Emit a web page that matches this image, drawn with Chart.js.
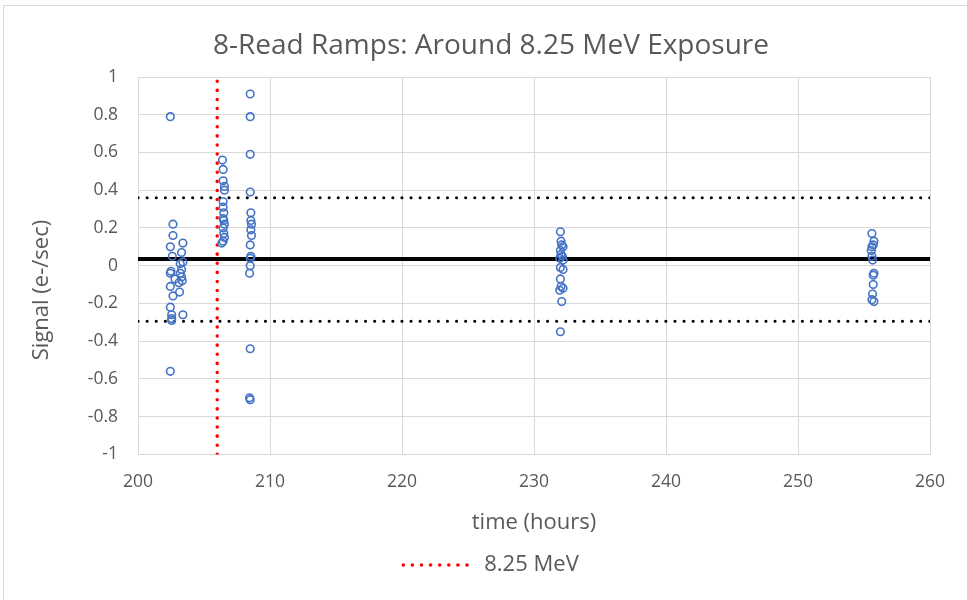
<!DOCTYPE html>
<html lang="en">
<head>
<meta charset="UTF-8" />
<title>8-Read Ramps: Around 8.25 MeV Exposure</title>
<style>
  body { margin: 0; padding: 0; background: #ffffff; }
  .wrap { position: relative; width: 967px; height: 600px; overflow: hidden; }
  .frame {
    position: absolute; left: 3px; top: 5px;
    width: 980px; height: 620px;
    border: 1px solid #d9d9d9;
  }
  canvas { position: absolute; left: 0; top: 0; }
</style>
</head>
<body>
<div class="wrap">
  <div class="frame"></div>
  <canvas id="chart" width="967" height="600"></canvas>
</div>

<script src="https://cdn.jsdelivr.net/npm/chart.js"></script>
<script>
  // axis ticks
  const xTicks = [200, 210, 220, 230, 240, 250, 260];
  const yTicks = [-1, -0.8, -0.6, -0.4, -0.2, 0, 0.2, 0.4, 0.6, 0.8, 1];

  // reference lines
  const exposureTime = 206;      // red dotted 8.25 MeV line
  const meanSignal = 0.035;
  const upperLimit = 0.36;
  const lowerLimit = -0.295;

  const timeA = [202.45, 202.65, 202.65, 202.45, 202.6, 202.5, 202.45, 202.45, 202.65, 202.45, 202.55, 202.55, 202.55, 202.45,
                 203.4, 203.3, 203.4, 203.2, 203.3, 203.2, 203.3, 203.35, 203.1, 203.15, 203.4, 202.8];
  const signalA = [0.79, 0.22, 0.16, 0.10, 0.05, -0.03, -0.04, -0.11, -0.16, -0.22, -0.26, -0.28, -0.29, -0.56,
                   0.12, 0.07, 0.02, 0.01, -0.02, -0.04, -0.06, -0.08, -0.09, -0.14, -0.26, -0.07];

  const timeB = [206.4, 206.45, 206.45, 206.55, 206.55, 206.45, 206.45, 206.5, 206.45, 206.5, 206.55, 206.45, 206.5, 206.55, 206.45, 206.35,
                 208.5, 208.5, 208.5, 208.5, 208.55, 208.55, 208.6, 208.55, 208.6, 208.5, 208.55, 208.5, 208.5, 208.45, 208.5, 208.45, 208.5];
  const signalB = [0.56, 0.51, 0.45, 0.42, 0.40, 0.34, 0.31, 0.28, 0.25, 0.24, 0.22, 0.20, 0.17, 0.15, 0.13, 0.12,
                   0.91, 0.79, 0.59, 0.39, 0.28, 0.24, 0.22, 0.19, 0.16, 0.11, 0.05, 0.04, 0.00, -0.04, -0.44, -0.70, -0.71];

  const timeC = [232.0, 232.05, 232.1, 232.2, 232.0, 232.05, 232.15, 231.95, 232.2, 232.0, 232.2, 232.0, 232.05, 232.2, 231.95, 232.1, 232.0];
  const signalC = [0.18, 0.13, 0.11, 0.10, 0.08, 0.06, 0.05, 0.04, 0.03, -0.01, -0.02, -0.07, -0.11, -0.12, -0.13, -0.19, -0.35];

  const timeD = [255.6, 255.75, 255.7, 255.6, 255.55, 255.6, 255.65, 255.75, 255.7, 255.7, 255.65, 255.6, 255.75];
  const signalD = [0.17, 0.13, 0.11, 0.10, 0.08, 0.05, 0.03, -0.04, -0.05, -0.10, -0.15, -0.18, -0.19];

  const toPoints = (xs, ys) => xs.map((x, i) => ({ x: x, y: ys[i] }));
  const allPoints = [].concat(
    toPoints(timeA, signalA), toPoints(timeB, signalB),
    toPoints(timeC, signalC), toPoints(timeD, signalD)
  );
  const xMin = xTicks[0], xMax = xTicks[xTicks.length - 1];
  const yMin = yTicks[0], yMax = yTicks[yTicks.length - 1];

  const FONT = "'Open Sans', 'Noto Sans', sans-serif";
  const TEXT = '#595959';

  // y title sits a bit below the plot centre, like the original
  const yTitlePlugin = {
    id: 'yTitle',
    afterDraw(chart) {
      const ctx = chart.ctx;
      ctx.save();
      ctx.translate(42, 290);
      ctx.rotate(-Math.PI / 2);
      ctx.fillStyle = TEXT;
      ctx.font = "22px " + FONT;
      ctx.textAlign = 'center';
      ctx.textBaseline = 'middle';
      ctx.fillText('Signal (e-/sec)', 0, 0);
      ctx.restore();
    }
  };

  new Chart(document.getElementById('chart'), {
    type: 'scatter',
    data: {
      datasets: [
        {
          label: 'Signal',
          data: allPoints,
          pointStyle: 'circle',
          pointRadius: 3.8,
          pointBorderWidth: 1.6,
          borderColor: '#4472c4',
          backgroundColor: 'rgba(0,0,0,0)',
          order: 1
        },
        {
          label: 'mean',
          data: [{ x: xMin, y: meanSignal }, { x: xMax, y: meanSignal }],
          showLine: true, pointRadius: 0,
          borderColor: '#000000', borderWidth: 4,
          order: 3
        },
        {
          label: 'upper',
          data: [{ x: xMin, y: upperLimit }, { x: xMax, y: upperLimit }],
          showLine: true, pointRadius: 0,
          borderColor: '#000000', borderWidth: 3,
          borderDash: [0.1, 9], borderCapStyle: 'round',
          order: 3
        },
        {
          label: 'lower',
          data: [{ x: xMin, y: lowerLimit }, { x: xMax, y: lowerLimit }],
          showLine: true, pointRadius: 0,
          borderColor: '#000000', borderWidth: 3,
          borderDash: [0.1, 9], borderCapStyle: 'round',
          order: 3
        },
        {
          label: '8.25 MeV',
          data: [{ x: exposureTime, y: yMin }, { x: exposureTime, y: yMax }],
          showLine: true, pointRadius: 0,
          borderColor: '#ff0000', borderWidth: 3.5,
          borderDash: [0.1, 9], borderCapStyle: 'round',
          order: 2
        }
      ]
    },
    options: {
      responsive: false,
      animation: false,
      layout: { padding: { left: 52, right: 37, top: 29, bottom: 14 } },
      scales: {
        x: {
          type: 'linear',
          min: xMin, max: xMax,
          afterBuildTicks: s => { s.ticks = xTicks.map(v => ({ value: v })); },
          afterFit: s => { s.height = 89.6; },
          grid: { color: '#d9d9d9', drawTicks: false },
          border: { color: '#d9d9d9' },
          ticks: { color: TEXT, font: { family: FONT, size: 17.5 }, padding: 17 },
          title: { display: true, text: 'time (hours)', color: TEXT, font: { family: FONT, size: 22 }, padding: { top: 10, bottom: 8.4 } }
        },
        y: {
          type: 'linear',
          min: yMin, max: yMax,
          afterBuildTicks: s => { s.ticks = yTicks.map(v => ({ value: v })); },
          afterFit: s => { s.width = 86; },
          grid: { color: '#d9d9d9', drawTicks: false },
          border: { color: '#d9d9d9' },
          ticks: { color: TEXT, font: { family: FONT, size: 17.5 }, padding: 20,
                   callback: v => String(Math.round(v * 10) / 10) }
        }
      },
      plugins: {
        title: {
          display: true,
          text: '8-Read Ramps: Around 8.25 MeV Exposure',
          color: TEXT,
          font: { family: FONT, size: 28, weight: 'normal' },
          padding: { top: 0, bottom: 14.4 }
        },
        legend: {
          position: 'bottom',
          labels: {
            usePointStyle: true,
            pointStyleWidth: 70,
            color: TEXT,
            font: { family: FONT, size: 22 },
            padding: 10,
            generateLabels: chart => chart.data.datasets
              .map((ds, i) => ({ ds, i }))
              .filter(o => o.ds.label === '8.25 MeV')
              .map(o => ({
                text: o.ds.label,
                datasetIndex: o.i,
                pointStyle: 'line',
                strokeStyle: o.ds.borderColor,
                fillStyle: o.ds.borderColor,
                lineWidth: o.ds.borderWidth,
                lineDash: o.ds.borderDash,
                lineCap: 'round',
                fontColor: TEXT,
                hidden: false
              }))
          }
        },
        tooltip: { enabled: false }
      }
    },
    plugins: [yTitlePlugin]
  });
</script>
</body>
</html>
